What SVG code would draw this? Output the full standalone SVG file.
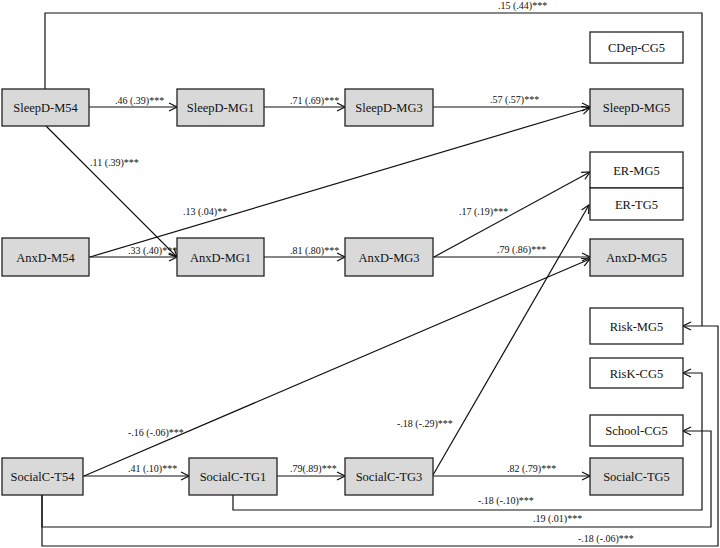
<svg xmlns="http://www.w3.org/2000/svg" width="720" height="548" viewBox="0 0 720 548">
<style>
.n rect{stroke:#222;stroke-width:1.3}
.g rect{fill:#d9d9d9}
.w rect{fill:#fff}
.n text{font-family:"Liberation Serif","Times New Roman",serif;font-size:12.5px;fill:#111;text-anchor:middle}
.c{fill:none;stroke:#111;stroke-width:1.2}
.l{font-family:"Liberation Serif","Times New Roman",serif;font-size:10px;fill:#111}
</style>
<defs>
<marker id="a" markerUnits="userSpaceOnUse" markerWidth="10" markerHeight="10" refX="8" refY="4" orient="auto" viewBox="-1 -1 10 10">
<path d="M0,0 L8,4 L0,8" fill="none" stroke="#111" stroke-width="1.2"/>
</marker>
</defs>
<rect width="720" height="548" fill="#fff"/>
<g id="connectors">
<line class="c" x1="89" y1="107" x2="177" y2="107" marker-end="url(#a)"/>
<line class="c" x1="264" y1="107" x2="345" y2="107" marker-end="url(#a)"/>
<line class="c" x1="433" y1="107" x2="590" y2="107" marker-end="url(#a)"/>
<line class="c" x1="46" y1="126" x2="177" y2="257" marker-end="url(#a)"/>
<line class="c" x1="90" y1="257" x2="590" y2="108" marker-end="url(#a)"/>
<line class="c" x1="89" y1="257" x2="177" y2="257" marker-end="url(#a)"/>
<line class="c" x1="264" y1="257" x2="345" y2="257" marker-end="url(#a)"/>
<line class="c" x1="434" y1="257" x2="590" y2="172" marker-end="url(#a)"/>
<line class="c" x1="433" y1="257" x2="590" y2="257" marker-end="url(#a)"/>
<line class="c" x1="84" y1="476" x2="590" y2="259" marker-end="url(#a)"/>
<line class="c" x1="433" y1="475" x2="589" y2="205" marker-end="url(#a)"/>
<line class="c" x1="83" y1="476" x2="189" y2="476" marker-end="url(#a)"/>
<line class="c" x1="277" y1="476" x2="345" y2="476" marker-end="url(#a)"/>
<line class="c" x1="433" y1="476" x2="590" y2="476" marker-end="url(#a)"/>
<polyline class="c" points="233,495 233,510 702,510 702,373 683,373" marker-end="url(#a)"/>
<polyline class="c" points="42,495 42,527 711,527 711,431 683,431" marker-end="url(#a)"/>
<polyline class="c" points="42,495 42,546 718,546 718,326 683,326" marker-end="url(#a)"/>
<polyline class="c" points="45,89 45,13 702,13 702,326"/>
<text class="l" x="115" y="104">.46 (.39)***</text>
<text class="l" x="290" y="104">.71 (.69)***</text>
<text class="l" x="490" y="103">.57 (.57)***</text>
<text class="l" x="90" y="166">.11 (.39)***</text>
<text class="l" x="183" y="215">.13 (.04)**</text>
<text class="l" x="128" y="254">.33 (.40)***</text>
<text class="l" x="290" y="254">.81 (.80)***</text>
<text class="l" x="459" y="215">.17 (.19)***</text>
<text class="l" x="497" y="253">.79 (.86)***</text>
<text class="l" x="128" y="436">-.16 (-.06)***</text>
<text class="l" x="397" y="427">-.18 (-.29)***</text>
<text class="l" x="128" y="472">.41 (.10)***</text>
<text class="l" x="290" y="472">.79(.89)***</text>
<text class="l" x="507" y="472">.82 (.79)***</text>
<text class="l" x="478" y="504">-.18 (-.10)***</text>
<text class="l" x="533" y="522">.19 (.01)***</text>
<text class="l" x="578" y="542">-.18 (-.06)***</text>
<text class="l" x="498" y="9">.15 (.44)***</text>
</g>
<g id="SleepD-M54" class="n g"><rect x="2" y="89" width="87" height="37"/><text x="45.5" y="112">SleepD-M54</text></g>
<g id="SleepD-MG1" class="n g"><rect x="177" y="89" width="87" height="37"/><text x="220.5" y="112">SleepD-MG1</text></g>
<g id="SleepD-MG3" class="n g"><rect x="345" y="89" width="88" height="37"/><text x="389" y="112">SleepD-MG3</text></g>
<g id="SleepD-MG5" class="n g"><rect x="590" y="89" width="93" height="37"/><text x="636.5" y="112">SleepD-MG5</text></g>
<g id="CDep-CG5" class="n w"><rect x="590" y="32" width="93" height="31"/><text x="636.5" y="52">CDep-CG5</text></g>
<g id="AnxD-M54" class="n g"><rect x="2" y="238" width="87" height="38"/><text x="45.5" y="261.5">AnxD-M54</text></g>
<g id="AnxD-MG1" class="n g"><rect x="177" y="238" width="87" height="38"/><text x="220.5" y="261.5">AnxD-MG1</text></g>
<g id="AnxD-MG3" class="n g"><rect x="345" y="238" width="88" height="38"/><text x="389" y="261.5">AnxD-MG3</text></g>
<g id="ER-MG5" class="n w"><rect x="590" y="152" width="93" height="36"/><text x="636.5" y="174.5">ER-MG5</text></g>
<g id="ER-TG5" class="n w"><rect x="590" y="188" width="93" height="32"/><text x="636.5" y="208.5">ER-TG5</text></g>
<g id="AnxD-MG5" class="n g"><rect x="590" y="239" width="93" height="37"/><text x="636.5" y="262">AnxD-MG5</text></g>
<g id="Risk-MG5" class="n w"><rect x="590" y="308" width="93" height="36"/><text x="636.5" y="330.5">Risk-MG5</text></g>
<g id="RisK-CG5" class="n w"><rect x="590" y="358" width="93" height="30"/><text x="636.5" y="377.5">RisK-CG5</text></g>
<g id="School-CG5" class="n w"><rect x="590" y="415" width="93" height="31"/><text x="636.5" y="435">School-CG5</text></g>
<g id="SocialC-T54" class="n g"><rect x="2" y="458" width="81" height="37"/><text x="42.5" y="481">SocialC-T54</text></g>
<g id="SocialC-TG1" class="n g"><rect x="189" y="458" width="88" height="37"/><text x="233" y="481">SocialC-TG1</text></g>
<g id="SocialC-TG3" class="n g"><rect x="345" y="458" width="88" height="37"/><text x="389" y="481">SocialC-TG3</text></g>
<g id="SocialC-TG5" class="n g"><rect x="590" y="458" width="93" height="37"/><text x="636.5" y="481">SocialC-TG5</text></g>
</svg>
